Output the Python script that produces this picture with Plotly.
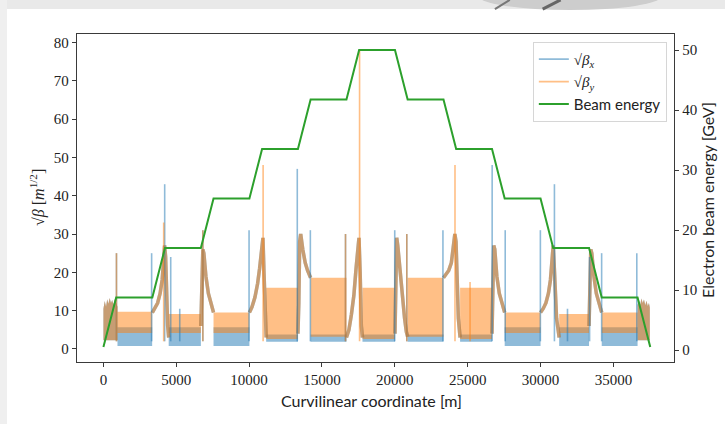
import plotly.graph_objects as go

# ---------------- data ----------------
# Beam energy profile along the machine
energy_s = [0, 876, 3357, 4226, 6687, 7557, 10020, 10890, 13350, 14220, 16680, 17550,
            20010, 20880, 23340, 24210, 26670, 27540, 30000, 30870, 33330, 34200, 36660, 37530]
energy_gev = [0.5, 8.75, 8.75, 17.0, 17.0, 25.25, 25.25, 33.5, 33.5, 41.75, 41.75, 50.0,
              50.0, 41.75, 41.75, 33.5, 33.5, 25.25, 25.25, 17.0, 17.0, 8.75, 8.75, 0.5]

# Envelopes of the rapidly oscillating sqrt(beta) in the arcs
band_start = [965, 4480, 7557, 11170, 14220, 17780, 20880, 24480, 27540, 31280, 34200]
band_end = [3345, 6687, 10020, 13350, 16680, 20010, 23340, 26670, 30000, 33330, 36660]
bx_low = [0.8, 0.8, 0.8, 1.9, 1.9, 1.9, 1.9, 1.9, 0.8, 0.8, 0.8]
bx_high = [5.7, 5.7, 5.7, 3.8, 3.8, 3.8, 3.8, 3.8, 5.7, 5.7, 5.7]
by_low = [4.2, 4.2, 4.2, 2.6, 3.2, 2.6, 3.2, 2.6, 4.2, 4.2, 4.2]
by_high = [9.7, 9.1, 9.5, 16.0, 18.6, 16.0, 18.6, 16.0, 9.5, 9.1, 9.5]

# Linac ends: jagged upper envelope (both planes), lower edge at linac_low
linac_s = [[0, 90, 180, 260, 340, 430, 520, 600, 690, 780, 860, 965],
           [36660, 36750, 36840, 36930, 37010, 37100, 37190, 37270, 37360, 37440, 37500]]
linac_top = [[10.5, 12.5, 11.0, 13.0, 11.8, 13.3, 12.0, 12.8, 11.6, 13.0, 12.2, 11.0],
             [11.5, 12.8, 11.6, 13.2, 12.0, 12.9, 11.4, 12.6, 11.2, 12.0, 10.8]]
linac_low = 2.3

# sqrt(beta) through spreaders / combiners (same for both planes, None = break)
horn_s = [3357, 3530, 3720, 3890, 4030, 4130, 4200, 4270, 4340, 4410, 4480, None,
          6687, 6756, 6825, 6894, 7032, 7204, 7377, 7557, None,
          10020, 10200, 10400, 10580, 10720, 10840, 10950, 11020, 11090, 11170, None,
          13350, 13410, 13470, 13540, 13680, 13850, 14010, 14130, 14220, None,
          16680, 16850, 17020, 17190, 17340, 17450, 17540, 17620, 17700, 17780, None,
          20010, 20070, 20130, 20200, 20340, 20510, 20670, 20790, 20880, None,
          23340, 23520, 23700, 23880, 24020, 24120, 24200, 24280, 24360, 24480, None,
          26670, 26730, 26790, 26860, 27000, 27170, 27330, 27450, 27540, None,
          30000, 30180, 30370, 30540, 30680, 30790, 30870, 30960, 31100, 31280, None,
          33330, 33390, 33450, 33520, 33660, 33830, 33990, 34110, 34200]
horn_v = [9.5, 10.5, 12.0, 14.5, 18.0, 23.0, 27.0, 24.0, 14.0, 6.0, 3.0, None,
          6.0, 15.0, 26.0, 25.0, 19.0, 14.5, 12.0, 9.5, None,
          9.5, 11.0, 13.5, 17.0, 21.0, 26.0, 29.0, 20.0, 8.0, 3.0, None,
          4.0, 12.0, 28.0, 30.0, 26.0, 22.5, 20.5, 19.5, 18.6, None,
          3.0, 5.0, 9.0, 14.0, 21.0, 27.0, 29.0, 20.0, 6.0, 3.0, None,
          4.0, 20.0, 29.0, 27.0, 21.0, 14.0, 8.0, 4.5, 3.2, None,
          18.6, 19.5, 20.5, 22.5, 26.0, 30.0, 28.0, 18.0, 8.0, 3.0, None,
          4.0, 14.0, 27.0, 26.0, 19.0, 14.5, 12.0, 10.0, 9.5, None,
          9.5, 10.5, 12.0, 14.5, 18.0, 23.0, 27.0, 20.0, 8.0, 3.0, None,
          6.0, 15.0, 26.0, 25.0, 19.0, 14.5, 12.0, 10.0, 9.5]

# isolated peaks
spike_x_s = [896, 3309, 4205, 4619, 5239, 6825, 9996, 13305, 14202, 16615, 19993, 20820,
             23302, 26680, 27576, 29989, 30954, 31850, 33367, 34194, 36607]
spike_x_top = [25, 25, 43, 24, 10.5, 31, 31, 47, 31, 30, 31, 30,
               31, 48, 31, 31, 43, 10.5, 24, 25, 25]
spike_y_s = [896, 4136, 6825, 10961, 16615, 17580, 20820, 24129, 25163]
spike_y_top = [25, 33, 31, 48, 30, 78, 30, 48, 17.5]

x_ticks = [0, 5000, 10000, 15000, 20000, 25000, 30000, 35000]
y_ticks = [0, 10, 20, 30, 40, 50, 60, 70, 80]
y2_ticks = [0, 10, 20, 30, 40, 50]

# ---------------- styling ----------------
BLUE = 'rgba(31,119,180,0.5)'
ORANGE = 'rgba(255,127,14,0.5)'
GREEN = '#2ca02c'
AXC = '#3a3a3a'
SERIF = 'Liberation Serif'
SANS = 'Lato'


def bands(lo, hi):
    xs, ys = [], []
    for s0, s1, a, b in zip(band_start, band_end, lo, hi):
        xs += [s0, s1, s1, s0, s0, None]
        ys += [a, a, b, b, a, None]
    for ss, tt in zip(linac_s, linac_top):
        xs += list(ss) + [ss[-1], ss[0], ss[0], None]
        ys += list(tt) + [linac_low, linac_low, tt[0], None]
    return xs, ys


def spikes(ss, tops, base=2.0):
    xs, ys = [], []
    for s, t in zip(ss, tops):
        xs += [s, s, None]
        ys += [base, t, None]
    return xs, ys


fig = go.Figure()
bxs, bys = bands(bx_low, bx_high)
fig.add_trace(go.Scatter(x=bxs, y=bys, fill='toself', fillcolor=BLUE, mode='lines',
                         line=dict(width=0, color=BLUE), showlegend=False, hoverinfo='skip'))
oxs, oys = bands(by_low, by_high)
fig.add_trace(go.Scatter(x=oxs, y=oys, fill='toself', fillcolor=ORANGE, mode='lines',
                         line=dict(width=0, color=ORANGE), showlegend=False, hoverinfo='skip'))
fig.add_trace(go.Scatter(x=horn_s, y=horn_v, mode='lines', line=dict(color=BLUE, width=3.5),
                         showlegend=False, hoverinfo='skip'))
fig.add_trace(go.Scatter(x=horn_s, y=horn_v, mode='lines', line=dict(color=ORANGE, width=3.5),
                         showlegend=False, hoverinfo='skip'))
sx, sy = spikes(spike_x_s, spike_x_top)
fig.add_trace(go.Scatter(x=sx, y=sy, mode='lines', line=dict(color=BLUE, width=1.6),
                         name="<span style='font-family:Liberation Serif'>√<i>β<sub>x</sub></i></span>"))
sx, sy = spikes(spike_y_s, spike_y_top)
fig.add_trace(go.Scatter(x=sx, y=sy, mode='lines', line=dict(color=ORANGE, width=1.6),
                         name="<span style='font-family:Liberation Serif'>√<i>β<sub>y</sub></i></span>"))
fig.add_trace(go.Scatter(x=energy_s, y=energy_gev, mode='lines', yaxis='y2',
                         line=dict(color=GREEN, width=2), name='Beam energy'))

axis_common = dict(showline=True, linecolor=AXC, linewidth=1.3, ticks='outside', ticklen=4,
                   tickwidth=1.1, tickcolor=AXC, showgrid=False, zeroline=False,
                   tickfont=dict(family=SERIF, size=15, color='#222'))

fig.update_layout(
    width=725, height=424, autosize=False,
    margin=dict(l=77, r=51, t=34, b=62),
    paper_bgcolor='white', plot_bgcolor='white',
    xaxis=dict(range=[-1813, 39160], tickvals=x_ticks, ticktext=[str(v) for v in x_ticks],
               mirror=True, **axis_common),
    yaxis=dict(range=[-3.4, 82.2], tickvals=y_ticks, mirror=True, **axis_common),
    yaxis2=dict(range=[-2.0, 52.67], tickvals=y2_ticks, overlaying='y', side='right',
                **axis_common),
    legend=dict(x=0.988, y=0.976, xanchor='right', yanchor='top',
                bgcolor='rgba(255,255,255,0.9)', bordercolor='#d6d6d6', borderwidth=1,
                font=dict(family=SANS, size=15, color='#222'), traceorder='normal'),
    annotations=[
        dict(text='Curvilinear coordinate [m]', xref='paper', yref='paper', x=0.4925, y=-0.1159,
             xanchor='center', yanchor='middle', showarrow=False,
             font=dict(family=SANS, size=16, color='#222')),
        dict(text='√<i>β</i> [<i>m</i><sup>1/2</sup>]', xref='paper', yref='paper', x=-0.067, y=0.5,
             xanchor='center', yanchor='middle', textangle=-90, showarrow=False,
             font=dict(family=SERIF, size=16, color='#222')),
        dict(text='Electron beam energy [GeV]', xref='paper', yref='paper', x=1.057, y=0.494,
             xanchor='center', yanchor='middle', textangle=-90, showarrow=False,
             font=dict(family=SANS, size=16, color='#222')),
    ],
    shapes=[
        dict(type='rect', xref='paper', yref='paper', x0=-0.2, x1=1.2, y0=1.0762, y1=1.2,
             fillcolor='#e9e9e9', line=dict(width=0), layer='below'),
        dict(type='rect', xref='paper', yref='paper', x0=-0.2, x1=-0.1173, y0=-0.3, y1=1.2,
             fillcolor='#efefef', line=dict(width=0), layer='below'),
        dict(type='circle', xref='paper', yref='paper', x0=0.672, x1=0.98, y0=1.073, y1=1.16,
             fillcolor='#cdcdcd', line=dict(width=0), layer='below'),
        dict(type='line', xref='paper', yref='paper', x0=0.70, x1=0.725, y0=1.076, y1=1.104,
             line=dict(color='#777', width=2)),
        dict(type='line', xref='paper', yref='paper', x0=0.78, x1=0.81, y0=1.076, y1=1.104,
             line=dict(color='#666', width=3)),
    ],
)

fig.write_html('out.html', config={'displayModeBar': False},
               post_script="document.body.style.margin='0';")
